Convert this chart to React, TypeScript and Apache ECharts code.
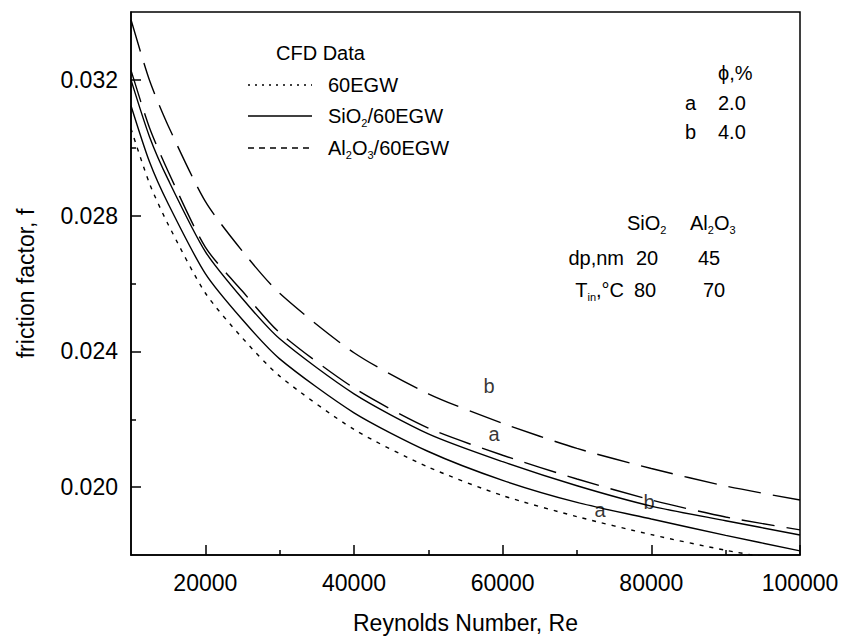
import React, { useEffect, useRef } from "react";
import * as echarts from "echarts";

// Reynolds numbers (x)
const reynolds = [10000, 12500, 15000, 20000, 25000, 30000, 40000, 50000, 60000, 70000, 80000, 90000, 100000];
// friction factor series
const al2o3B = [0.03377, 0.03198, 0.03065, 0.02842, 0.02695, 0.02571, 0.02396, 0.02275, 0.02188, 0.02114, 0.02055, 0.02003, 0.01962];
const al2o3A = [0.03228, 0.03058, 0.0293, 0.02707, 0.02577, 0.02455, 0.02292, 0.02174, 0.02094, 0.02024, 0.01962, 0.01912, 0.01874];
const sio2B = [0.032, 0.03032, 0.02906, 0.02694, 0.02555, 0.02437, 0.02275, 0.02157, 0.02075, 0.02004, 0.01944, 0.01901, 0.01859];
const sio2A = [0.03124, 0.02958, 0.02835, 0.02629, 0.02493, 0.02378, 0.02219, 0.02105, 0.0202, 0.01955, 0.01906, 0.01858, 0.01812];
const egw60 = [0.03056, 0.02894, 0.02774, 0.02572, 0.02439, 0.02327, 0.0217, 0.02059, 0.01975, 0.01913, 0.0186, 0.01814, 0.01776];

// curve labels: [Re, f, text]
const curveLabels: [number, number, string][] = [
  [58160, 0.02299, "b"],
  [58830, 0.02158, "a"],
  [79690, 0.01955, "b"],
  [73090, 0.01934, "a"],
];

const xMajorTicks = [20000, 40000, 60000, 80000, 100000];
const xMinorTicks = [30000, 50000, 70000, 90000];
const yMajorTicks = [0.02, 0.024, 0.028, 0.032];
const yMinorTicks = [0.022, 0.026, 0.03];

const FONT = "'Liberation Sans', Arial, sans-serif";

let measureCtx: CanvasRenderingContext2D | null = null;
function measure(t: string, size: number) {
  if (!measureCtx) measureCtx = document.createElement("canvas").getContext("2d");
  measureCtx!.font = `${size}px 'Liberation Sans'`;
  return measureCtx!.measureText(t).width;
}

type Seg = { t: string; sub?: boolean };
function richText(segs: Seg[], x: number, y: number, size = 20, subSize = 11, alignRight = false) {
  const els: any[] = [];
  let total = 0;
  segs.forEach((s) => (total += measure(s.t, s.sub ? subSize : size)));
  let cx = alignRight ? x - total : x;
  segs.forEach((s) => {
    const fs = s.sub ? subSize : size;
    els.push({
      type: "text",
      x: cx,
      y: s.sub ? y + 7 : y,
      style: {
        text: s.t,
        fontSize: fs,
        fontFamily: FONT,
        fill: "#000",
        align: "left",
        verticalAlign: "middle",
      },
    });
    cx += measure(s.t, fs);
  });
  return els;
}

export default function App() {
  const ref = useRef<HTMLDivElement>(null);
  useEffect(() => {
    if (!ref.current) return;
    const chart = echarts.init(ref.current, null, { renderer: "svg" });
    const mk = (arr: number[]) => reynolds.map((r, i) => [r, arr[i]]);
    const lineSeries = (name: string, arr: number[], type: any, width = 1.4) => ({
      name,
      type: "line",
      data: mk(arr),
      symbol: "none",
      smooth: 0.25,
      clip: true,
      lineStyle: { color: "#000", width, type },
      z: 3,
    });

    const graphic: any[] = [
      ...richText([{ t: "CFD Data" }], 276, 53),
      { type: "line", shape: { x1: 248, y1: 85, x2: 312, y2: 85 }, style: { stroke: "#000", lineWidth: 1.3, lineDash: [2, 5] } },
      { type: "line", shape: { x1: 248, y1: 116, x2: 312, y2: 116 }, style: { stroke: "#000", lineWidth: 1.4 } },
      { type: "line", shape: { x1: 248, y1: 148, x2: 310, y2: 148 }, style: { stroke: "#000", lineWidth: 1.4, lineDash: [6, 5] } },
      ...richText([{ t: "60EGW" }], 328, 85),
      ...richText([{ t: "SiO" }, { t: "2", sub: true }, { t: "/60EGW" }], 328, 116),
      ...richText([{ t: "Al" }, { t: "2", sub: true }, { t: "O" }, { t: "3", sub: true }, { t: "/60EGW" }], 328, 148),
      ...richText([{ t: "ϕ,%" }], 718, 73),
      ...richText([{ t: "a" }], 685, 103),
      ...richText([{ t: "2.0" }], 718, 103),
      ...richText([{ t: "b" }], 685, 132),
      ...richText([{ t: "4.0" }], 718, 132),
      ...richText([{ t: "SiO" }, { t: "2", sub: true }], 627, 223),
      ...richText([{ t: "Al" }, { t: "2", sub: true }, { t: "O" }, { t: "3", sub: true }], 690, 223),
      ...richText([{ t: "dp,nm" }], 624, 258, 20, 11, true),
      ...richText([{ t: "20" }], 636, 258),
      ...richText([{ t: "45" }], 698, 258),
      ...richText([{ t: "T" }, { t: "in", sub: true }, { t: ",°C" }], 624, 290, 20, 11, true),
      ...richText([{ t: "80" }], 634, 290),
      ...richText([{ t: "70" }], 703, 290),
    ];

    chart.setOption({
      animation: false,
      backgroundColor: "#fff",
      textStyle: { fontFamily: FONT },
      grid: { left: 131, right: 43, top: 12, bottom: 82, show: true, borderColor: "#000", borderWidth: 1.5, backgroundColor: "transparent" },
      xAxis: [
        {
          type: "value",
          min: 10000,
          max: 100000,
          position: "bottom",
          name: "Reynolds Number, Re",
          nameLocation: "middle",
          nameGap: 56,
          nameTextStyle: { fontSize: 23, color: "#000", fontFamily: FONT },
          axisLine: { lineStyle: { color: "#000", width: 1.5 } },
          axisTick: { inside: true, length: 10, customValues: xMajorTicks, lineStyle: { color: "#000", width: 1.5 } },
          axisLabel: { customValues: xMajorTicks, color: "#000", fontSize: 23, fontFamily: FONT, margin: 16, formatter: (v: number) => String(Math.round(v)) },
          splitLine: { show: false },
        },
        {
          type: "value",
          min: 10000,
          max: 100000,
          position: "bottom",
          axisLine: { show: false },
          axisTick: { inside: true, length: 5, customValues: xMinorTicks, lineStyle: { color: "#000", width: 1.5 } },
          axisLabel: { show: false },
          splitLine: { show: false },
        },
      ],
      yAxis: [
        {
          type: "value",
          min: 0.018,
          max: 0.034,
          position: "left",
          name: "friction factor, f",
          nameLocation: "middle",
          nameGap: 94,
          nameTextStyle: { fontSize: 23, color: "#000", fontFamily: FONT },
          axisLine: { lineStyle: { color: "#000", width: 1.5 } },
          axisTick: { inside: true, length: 10, customValues: yMajorTicks, lineStyle: { color: "#000", width: 1.5 } },
          axisLabel: { customValues: yMajorTicks, color: "#000", fontSize: 23, fontFamily: FONT, margin: 13, formatter: (v: number) => v.toFixed(3) },
          splitLine: { show: false },
        },
        {
          type: "value",
          min: 0.018,
          max: 0.034,
          position: "left",
          axisLine: { show: false },
          axisTick: { inside: true, length: 5, customValues: yMinorTicks, lineStyle: { color: "#000", width: 1.5 } },
          axisLabel: { show: false },
          splitLine: { show: false },
        },
      ],
      series: [
        lineSeries("Al2O3 b", al2o3B, [33, 12]),
        lineSeries("Al2O3 a", al2o3A, [33, 12]),
        lineSeries("SiO2 b", sio2B, "solid"),
        lineSeries("SiO2 a", sio2A, "solid"),
        lineSeries("60EGW", egw60, [4, 6]),
        {
          name: "labels",
          type: "scatter",
          data: curveLabels.map((d) => [d[0], d[1], d[2]]),
          symbolSize: 0,
          z: 5,
          label: {
            show: true,
            position: "inside",
            formatter: (p: any) => p.data[2],
            fontSize: 20,
            fontFamily: FONT,
            color: "#000",
          },
        },
      ],
      graphic,
    });
    return () => chart.dispose();
  }, []);
  return <div ref={ref} style={{ position: "fixed", left: 0, top: 0, width: 843, height: 639, background: "#fff" }} />;
}
